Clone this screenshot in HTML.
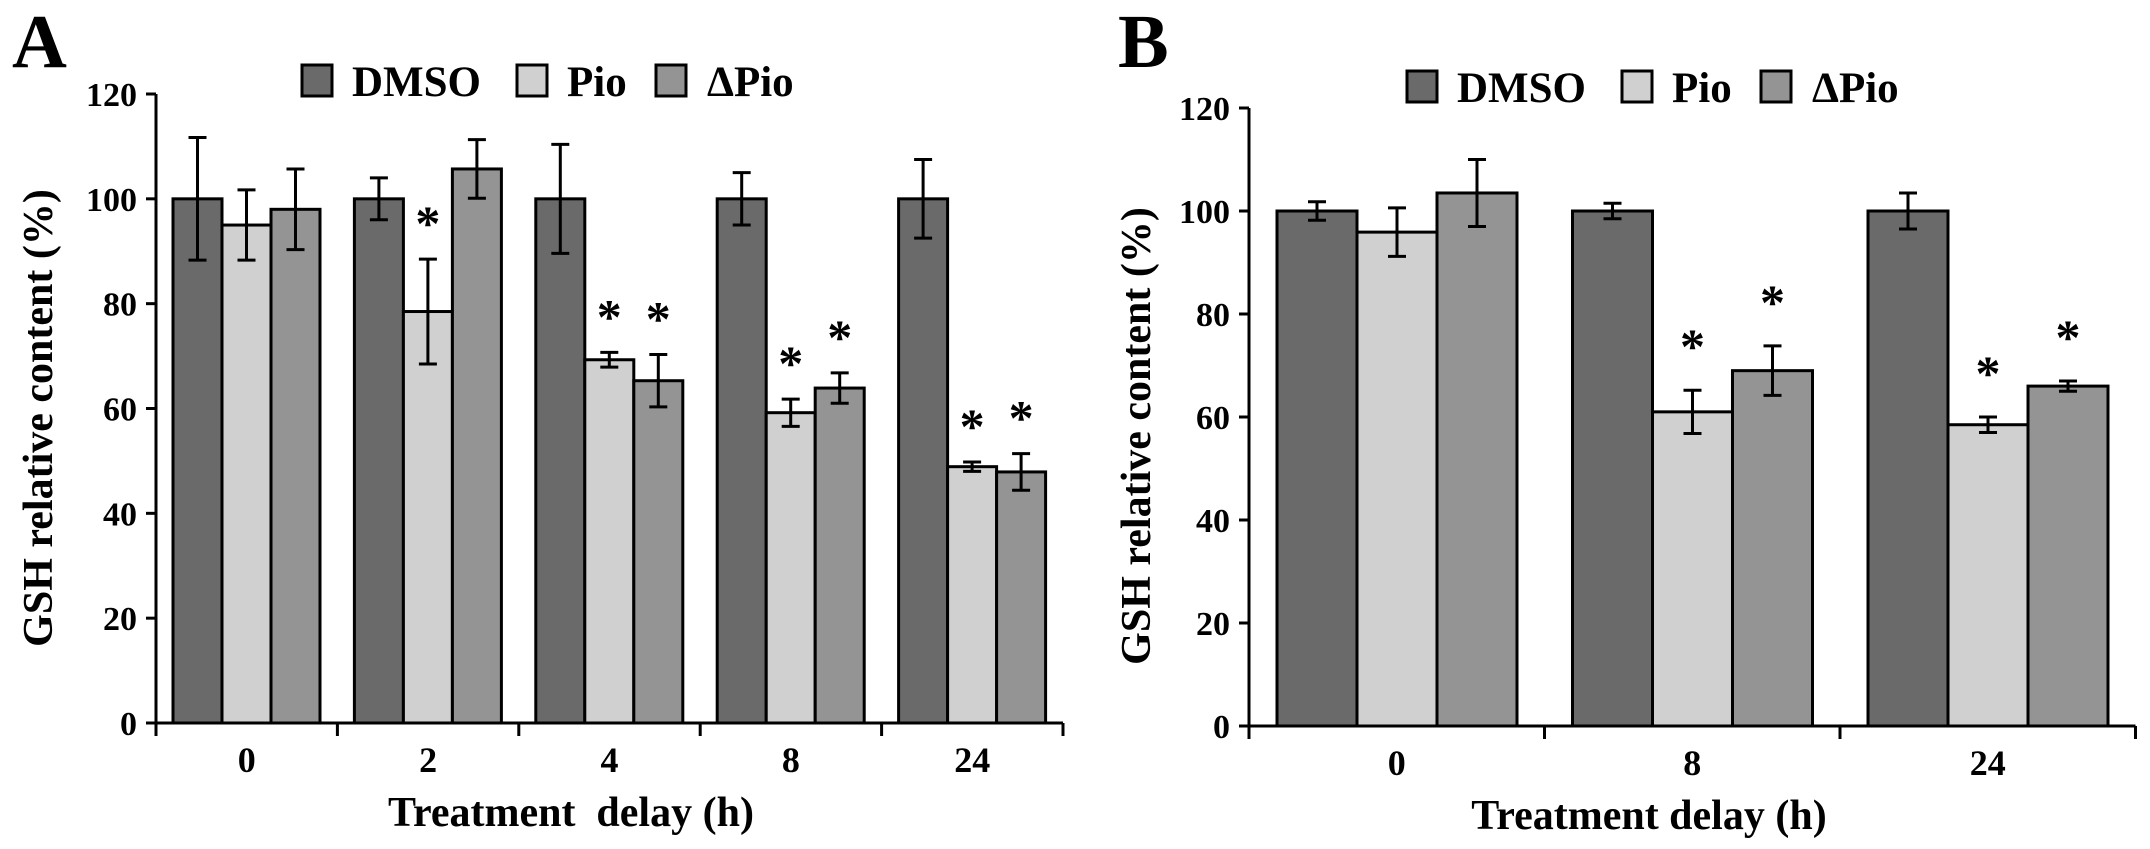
<!DOCTYPE html>
<html><head><meta charset="utf-8"><style>
html,body{margin:0;padding:0;background:#fff;}
svg{display:block;font-family:"Liberation Serif",serif;font-weight:bold;}
</style></head><body>
<svg id="fig" width="2150" height="849" viewBox="0 0 2150 849" xmlns="http://www.w3.org/2000/svg"></svg>
<script>
const seriesNames = ["DMSO", "Pio", "\u0394Pio"];
const seriesColors = ["#6a6a6a", "#d0d0d0", "#949494"];
const yTicks = [0, 20, 40, 60, 80, 100, 120];

const catsA = ["0", "2", "4", "8", "24"];
const dmsoA = [100, 100, 100, 100, 100];
const dmsoErrA = [11.7, 4, 10.4, 5, 7.5];
const pioA = [95, 78.5, 69.3, 59.2, 48.9];
const pioErrA = [6.7, 10, 1.4, 2.6, 0.9];
const dpioA = [98, 105.7, 65.3, 63.9, 47.9];
const dpioErrA = [7.7, 5.6, 5, 2.9, 3.5];
const pioStarA = [false, true, true, true, true];
const dpioStarA = [false, false, true, true, true];

const catsB = ["0", "8", "24"];
const dmsoB = [100, 100, 100];
const dmsoErrB = [1.8, 1.5, 3.5];
const pioB = [95.9, 61, 58.5];
const pioErrB = [4.7, 4.2, 1.5];
const dpioB = [103.5, 69, 66];
const dpioErrB = [6.5, 4.8, 1];
const pioStarB = [false, true, true];
const dpioStarB = [false, true, true];

const NS = "http://www.w3.org/2000/svg";
const svg = document.getElementById("fig");
function mk(tag, attrs, parent, text) {
  const e = document.createElementNS(NS, tag);
  for (const k in attrs) e.setAttribute(k, attrs[k]);
  if (text !== undefined) e.textContent = text;
  (parent || svg).appendChild(e);
  return e;
}

function drawPanel(cfg) {
  const g = mk("g", {});
  
  
  const yScale = v => cfg.y0 - (v / 120) * (cfg.y0 - cfg.y120);
  const n = cfg.cats.length;
  const xScale = i => cfg.x0 + i * cfg.step;

  const letter = mk("text", {x: cfg.letterX, y: 67, "font-size": 76}, g, cfg.letter);
  
  

  // legend
  const lg = mk("g", {}, g);
  
  
  const legX = [0, 215, 354];
  const txtX = [50, 265, 405];
  seriesNames.forEach((s, i) => {
    const sq = mk("rect", {x: cfg.legX + legX[i], y: cfg.legY - 31, width: 30, height: 31, fill: seriesColors[i], stroke: "#000", "stroke-width": 3}, lg);
    
    
    const t = mk("text", {x: cfg.legX + txtX[i], y: cfg.legY, "font-size": 43}, lg, s);
    
    
  });

  // bars
  const series = [
    [cfg.dmso, cfg.dmsoErr, null],
    [cfg.pio, cfg.pioErr, cfg.pioStar],
    [cfg.dpio, cfg.dpioErr, cfg.dpioStar]
  ];
  for (let c = 0; c < n; c++) {
    for (let s = 0; s < 3; s++) {
      const v = series[s][0][c], e = series[s][1][c];
      const bx = xScale(c) + cfg.off + s * cfg.bw;
      const r = mk("rect", {x: bx, y: yScale(v), width: cfg.bw, height: yScale(0) - yScale(v), fill: seriesColors[s], stroke: "#000", "stroke-width": 3}, g);
      
      
      const cx = bx + cfg.bw / 2;
      const eb = mk("path", {d: `M${cx - 9},${yScale(v + e)}H${cx + 9}M${cx},${yScale(v + e)}V${yScale(v - e)}M${cx - 9},${yScale(v - e)}H${cx + 9}`, stroke: "#000", "stroke-width": 3, fill: "none"}, g);
      
      
      if (series[s][2] && series[s][2][c]) {
        const st = mk("text", {x: cx, y: yScale(v + e) - cfg.starOff + 23, "font-size": 50, "text-anchor": "middle"}, g, "*");
        
        
      }
    }
  }

  // axes
  const xEnd = xScale(n);
  const ax = mk("path", {d: `M${cfg.x0},${cfg.y120}V${cfg.y0}H${xEnd}`, stroke: "#000", "stroke-width": 3, fill: "none"}, g);
  
  
  yTicks.forEach(t => {
    const y = yScale(t);
    mk("line", {x1: cfg.x0 - 10, x2: cfg.x0, y1: y, y2: y, stroke: "#000", "stroke-width": 3}, g);
    const tl = mk("text", {x: cfg.x0 - 19, y: y + 12, "font-size": 34, "text-anchor": "end"}, g, String(t));
    
    
  });
  for (let i = 0; i <= n; i++) {
    mk("line", {x1: xScale(i), x2: xScale(i), y1: cfg.y0, y2: cfg.y0 + 13, stroke: "#000", "stroke-width": 3}, g);
  }
  cfg.cats.forEach((c, i) => {
    const tl = mk("text", {x: xScale(i) + cfg.step / 2, y: cfg.y0 + 49, "font-size": 36, "text-anchor": "middle"}, g, c);
    
    
  });
  const xt = mk("text", {x: cfg.xTitleX, y: cfg.y0 + 103, "font-size": 42, "text-anchor": "middle"}, g, cfg.xTitle);
  
  
  const yt = mk("text", {x: 0, y: 0, "font-size": 42, "text-anchor": "middle", transform: `translate(${cfg.yTitleX},${cfg.yTitleY}) rotate(-90)`}, g, "GSH relative content (%)");
  
  
}

drawPanel({name: "panel-a", letter: "A", letterX: 12, legX: 302, legY: 96,
  x0: 156, y0: 723, y120: 94, step: 181.4, off: 17, bw: 49,
  cats: catsA, dmso: dmsoA, dmsoErr: dmsoErrA, pio: pioA, pioErr: pioErrA, dpio: dpioA, dpioErr: dpioErrA,
  pioStar: pioStarA, dpioStar: dpioStarA, starOff: 42,
  xTitle: "Treatment\u00a0\u00a0delay (h)", xTitleX: 571, yTitleX: 52, yTitleY: 418});
drawPanel({name: "panel-b", letter: "B", letterX: 1118, legX: 1407, legY: 102,
  x0: 1249, y0: 726, y120: 108, step: 295.5, off: 28, bw: 80,
  cats: catsB, dmso: dmsoB, dmsoErr: dmsoErrB, pio: pioB, pioErr: pioErrB, dpio: dpioB, dpioErr: dpioErrB,
  pioStar: pioStarB, dpioStar: dpioStarB, starOff: 50,
  xTitle: "Treatment delay (h)", xTitleX: 1649, yTitleX: 1150, yTitleY: 436});
</script>
</body></html>
